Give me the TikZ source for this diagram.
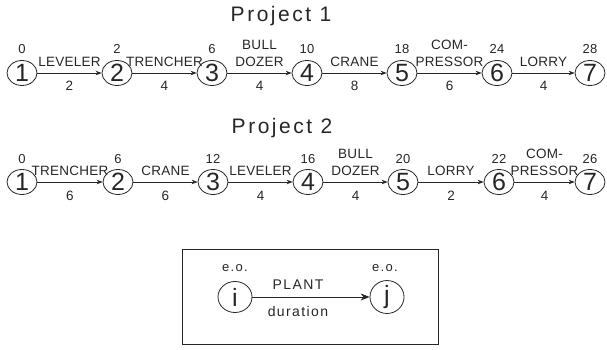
\documentclass[tikz,border=0pt]{standalone}
\usepackage{fontspec}
\setmainfont{Liberation Sans}
\usetikzlibrary{shapes.geometric,arrows.meta}
\newfontfamily\lblfont[LetterSpace=2]{Liberation Sans}
\newfontfamily\keyfont[LetterSpace=10]{Liberation Sans}
\newfontfamily\ttlfont[LetterSpace=12]{Liberation Sans}
\tikzset{
  ev/.style={ellipse, draw, line width=0.8pt, minimum width=30pt, minimum height=25pt,
    inner sep=0pt, font=\fontsize{25}{25}\selectfont},
  lev/.style={ev, minimum width=34pt, minimum height=31pt},
  tm/.style={inner sep=0pt, font=\lblfont\fontsize{13}{13}\selectfont},
  act/.style={inner sep=0pt, anchor=south, align=center,
    font=\lblfont\fontsize{13.5}{16.5}\selectfont},
  dur/.style={inner sep=0pt, font=\lblfont\fontsize{13.5}{13.5}\selectfont},
  keytxt/.style={inner sep=0pt, font=\keyfont\fontsize{14}{14}\selectfont},
  ttl/.style={inner sep=0pt, font=\ttlfont\fontsize{21}{21}\selectfont},
  link/.style={line width=0.8pt, -{Stealth[length=6pt,width=4.5pt]}},
  biglink/.style={line width=0.8pt, -{Stealth[length=9pt,width=7pt]}},
}
\begin{document}
\begin{tikzpicture}[x=1pt,y=-1pt,color=black!85]
\useasboundingbox (0,0) rectangle (607,350);

% ---------- Project 1 ----------
\node[ttl] (t1) at (281,16) {Project 1};
\foreach \i/\x/\t in {1/22/0,2/117/2,3/212/6,4/307/10,5/402/18,6/497/24,7/590/28}{
  \node[ev] (a\i) at (\x,73) {\i};
  \node[tm] (ta\i) at (\x,49) {\t};
}
\foreach \i/\j/\name/\d in {1/2/LEVELER/2,2/3/TRENCHER/4,3/4/{BULL\\DOZER}/4,
    4/5/CRANE/8,5/6/{COM-\\PRESSOR}/6,6/7/LORRY/4}{
  \draw[link] (a\i) -- (a\j);
  \path (a\i) -- (a\j) node[act, pos=0.5, yshift=6.5pt] (pa\i) {\name}
                       node[dur, pos=0.5, yshift=-13pt] (da\i) {\d};
}

% ---------- Project 2 ----------
\node[ttl] (t2) at (282,128) {Project 2};
\foreach \i/\x/\t in {1/22/0,2/118/6,3/213/12,4/308/16,5/403/20,6/499/22,7/590/26}{
  \node[ev] (b\i) at (\x,182) {\i};
  \node[tm] (tb\i) at (\x,159) {\t};
}
\foreach \i/\j/\name/\d in {1/2/TRENCHER/6,2/3/CRANE/6,3/4/LEVELER/4,
    4/5/{BULL\\DOZER}/4,5/6/LORRY/2,6/7/{COM-\\PRESSOR}/4}{
  \draw[link] (b\i) -- (b\j);
  \path (b\i) -- (b\j) node[act, pos=0.5, yshift=6.5pt] (pb\i) {\name}
                       node[dur, pos=0.5, yshift=-14pt] (db\i) {\d};
}

% ---------- Key ----------
\draw[line width=0.8pt] (182,249) rectangle (438,344);
\node[lev] (ki) at (235,297) {i};
\node[lev] (kj) at (387,297) {j};
\node[keytxt, font=\keyfont\fontsize{13}{13}\selectfont] (ei) at (235,268) {e.o.};
\node[keytxt, font=\keyfont\fontsize{13}{13}\selectfont] (ej) at (385,268) {e.o.};
\draw[biglink] (ki) -- (kj);
\node[keytxt] (kp) at (298,285) {PLANT};
\node[keytxt] (kd) at (298,311) {duration};
\end{tikzpicture}
\end{document}
